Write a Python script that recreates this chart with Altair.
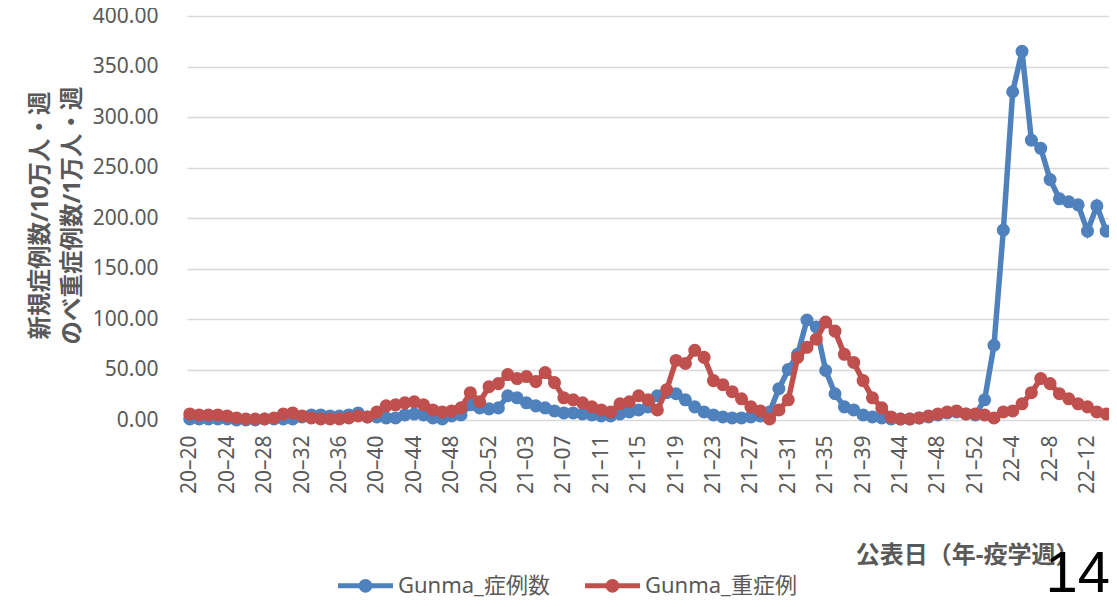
import altair as alt
import pandas as pd

# ---- category labels (year–epi week) ----
weeks_2020 = ["20–20", "20–21", "20–22", "20–23", "20–24", "20–25", "20–26", "20–27",
              "20–28", "20–29", "20–30", "20–31", "20–32", "20–33", "20–34", "20–35",
              "20–36", "20–37", "20–38", "20–39", "20–40", "20–41", "20–42", "20–43",
              "20–44", "20–45", "20–46", "20–47", "20–48", "20–49", "20–50", "20–51",
              "20–52", "20–53"]
weeks_2021 = ["21–01", "21–02", "21–03", "21–04", "21–05", "21–06", "21–07", "21–08",
              "21–09", "21–10", "21–11", "21–12", "21–13", "21–14", "21–15", "21–16",
              "21–17", "21–18", "21–19", "21–20", "21–21", "21–22", "21–23", "21–24",
              "21–25", "21–26", "21–27", "21–28", "21–29", "21–30", "21–31", "21–32",
              "21–33", "21–34", "21–35", "21–36", "21–37", "21–38", "21–39", "21–40",
              "21–41", "21–43", "21–44", "21–45", "21–46", "21–47", "21–48", "21–49",
              "21–50", "21–51", "21–52"]
weeks_2022 = ["22–1", "22–2", "22–3", "22–4", "22–5", "22–6", "22–7", "22–8",
              "22–9", "22–10", "22–11", "22–12", "22–13", "22–14"]
weeks = weeks_2020 + weeks_2021 + weeks_2022

tick_labels = ["20–20", "20–24", "20–28", "20–32", "20–36", "20–40", "20–44", "20–48",
               "20–52", "21–03", "21–07", "21–11", "21–15", "21–19", "21–23", "21–27",
               "21–31", "21–35", "21–39", "21–44", "21–48", "21–52", "22–4", "22–8",
               "22–12"]

# ---- series values ----
cases = [1, 1, 1, 1, 1, 0, 0, 0, 1, 1,
         1, 1, 3, 5, 5, 4, 4, 5, 7, 3,
         3, 2, 2, 5, 6, 5, 2, 1, 4, 5,
         15, 12, 11, 12, 24, 22, 17, 14, 12, 9,
         7, 7, 6, 5, 4, 4, 6, 8, 10, 13,
         24, 27, 26, 20, 13, 8, 5, 3, 2, 2,
         3, 4, 8, 31, 50, 65, 99, 92, 49, 26,
         13, 10, 5, 3, 2, 1, 1, 1, 2, 3,
         5, 7, 8, 6, 5, 20, 74, 188, 325, 365,
         277, 269, 238, 219, 216, 213, 187, 212, 187]

severe = [6, 5, 5, 5, 4, 2, 1, 1, 1, 2,
          6, 7, 4, 2, 1, 1, 1, 2, 4, 3,
          8, 14, 15, 17, 18, 15, 10, 8, 9, 12,
          27, 18, 33, 36, 45, 41, 43, 38, 47, 37,
          22, 20, 17, 13, 10, 8, 16, 18, 24, 20,
          10, 30, 59, 56, 69, 62, 39, 35, 28, 21,
          13, 9, 1, 10, 20, 62, 72, 80, 97, 88,
          65, 57, 39, 22, 12, 3, 1, 1, 2, 4,
          6, 8, 9, 6, 6, 5, 2, 8, 9, 16,
          27, 41, 36, 26, 21, 16, 13, 8, 6]

series_names = ["Gunma_症例数", "Gunma_重症例"]
series_colors = ["#4F81BD", "#C0504D"]
y_ticks = [0, 50, 100, 150, 200, 250, 300, 350, 400]
y_title = ["新規症例数/10万人・週", "のべ重症例数/1万人・週"]
x_title = "公表日（年-疫学週）"
page_number = "14"

df = pd.DataFrame({
    "week": weeks + weeks,
    "value": cases + severe,
    "series": [series_names[0]] * len(weeks) + [series_names[1]] * len(weeks),
})

FONT = "'Noto Sans', 'Noto Sans CJK JP', sans-serif"
GREY = "#595959"

legend_path = ("M-1,-0.09 L1,-0.09 L1,0.09 L-1,0.09 Z "
               "M-0.25,0 A0.25,0.25 0 1,1 0.25,0 A0.25,0.25 0 1,1 -0.25,0 Z")

x_enc = alt.X(
    "week:N", sort=weeks,
    scale=alt.Scale(type="point", padding=0.3),
    axis=alt.Axis(values=tick_labels, labelAngle=-90, labelFontSize=21, labelColor=GREY,
                  labelPadding=15, labelOverlap=False, ticks=False, domain=False, grid=False,
                  title=x_title, titleFontSize=24, titleFontWeight="bold", titleColor=GREY,
                  titleX=892, titleY=135, titleAlign="right", titleBaseline="middle"),
)
y_enc = alt.Y(
    "value:Q",
    scale=alt.Scale(domain=[0, 400], nice=False),
    axis=alt.Axis(values=y_ticks, format=".2f", labelFontSize=21, labelColor=GREY,
                  labelPadding=29, ticks=False, tickSize=0, domain=False,
                  gridColor="#D9D9D9", gridWidth=1.3,
                  title=y_title, titleFontSize=23.5, titleFontWeight="bold", titleColor=GREY,
                  titleAngle=-90, titleX=-147, titleY=199, titleBaseline="middle",
                  titleAlign="center", titleLineHeight=32),
)
color_scale = alt.Scale(domain=series_names, range=series_colors)
legend = alt.Legend(orient="none", legendX=151, legendY=542, direction="horizontal",
                    title=None, symbolType=legend_path, symbolSize=3025,
                    symbolStrokeWidth=0, symbolOpacity=1, labelFontSize=22,
                    labelColor=GREY, labelFont=FONT, labelOffset=5, columnPadding=35,
                    padding=0, labelLimit=400)

layers = []
for name, col in zip(series_names, series_colors):
    base = alt.Chart(df).transform_filter(alt.datum.series == name)
    line = base.mark_line(strokeWidth=5.5, color=col).encode(x=x_enc, y=y_enc)
    pts = base.mark_circle(size=170, opacity=1).encode(
        x=x_enc, y=y_enc,
        color=alt.Color("series:N", scale=color_scale, legend=legend))
    layers += [line, pts]

num = alt.Chart(pd.DataFrame({"t": [page_number]})).mark_text(
    align="right", baseline="alphabetic", fontSize=58, font="Liberation Sans", color="black"
).encode(text="t:N", x=alt.value(923), y=alt.value(576))
layers.append(num)

chart = alt.layer(*layers).properties(
    width=922, height=404,
    padding={"left": 179, "top": 8, "right": 0, "bottom": 179},
    autosize=alt.AutoSizeParams(type="none"),
).configure_view(stroke=None).configure_axis(labelFont=FONT, titleFont=FONT)

chart.save("out.html", embed_options={"renderer": "svg", "actions": False})
